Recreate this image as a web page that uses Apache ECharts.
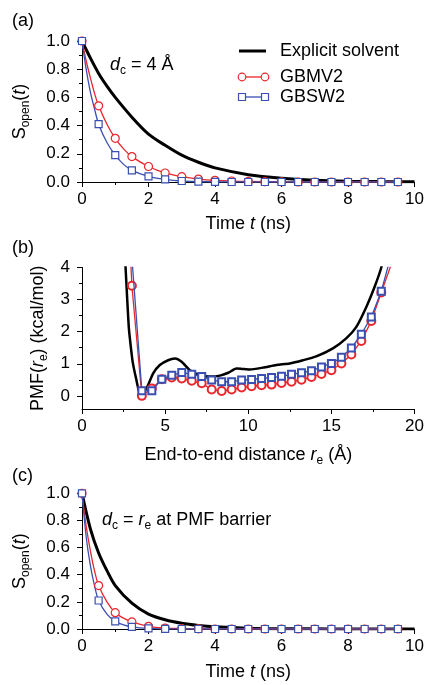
<!DOCTYPE html>
<html><head><meta charset="utf-8">
<script src="https://cdn.jsdelivr.net/npm/echarts@6.0.0/dist/echarts.min.js"></script>
<style>html,body{margin:0;padding:0;background:#fff}#c{width:427px;height:685px}</style>
</head><body><div id="c"></div>
<script>
// ---------- data ----------
const markerTime = [0,0.5,1,1.5,2,2.5,3,3.5,4,4.5,5,5.5,6,6.5,7,7.5,8,8.5,9,9.5];
const gbmv2A = [1,0.54,0.31,0.18,0.11,0.064,0.038,0.021,0.012,0.007,0.004,0.002,0.001,0,0,0,0,0,0,0];
const gbsw2A = [1,0.41,0.19,0.083,0.04,0.019,0.007,0.003,0.001,0,0,0,0,0,0,0,0,0,0,0];
const gbmv2C = [1,0.32,0.12,0.052,0.02,0.007,0.003,0.001,0,0,0,0,0,0,0,0,0,0,0,0];
const gbsw2C = [1,0.21,0.056,0.016,0.004,0.001,0,0,0,0,0,0,0,0,0,0,0,0,0,0];

const fitTime = [0,0.125,0.25,0.375,0.5,0.75,1,1.25,1.5,2,2.5,3,3.5,4,5,6,7,8,9.5];
const gbmv2FitA = [1,0.86,0.74,0.63,0.54,0.41,0.31,0.235,0.18,0.11,0.064,0.038,0.021,0.012,0.004,0.001,0,0,0];
const gbsw2FitA = [1,0.8,0.64,0.52,0.41,0.28,0.19,0.125,0.083,0.04,0.019,0.007,0.003,0.001,0,0,0,0,0];
const gbmv2FitC = [1,0.76,0.58,0.43,0.32,0.2,0.12,0.08,0.052,0.02,0.007,0.003,0.001,0.001,0,0,0,0,0];
const gbsw2FitC = [1,0.68,0.47,0.32,0.21,0.11,0.056,0.03,0.016,0.004,0.001,0,0,0,0,0,0,0,0];

const explicitTime = [0,0.25,0.5,0.75,1,1.5,2,2.5,3,3.5,4,5,6,7,8,9,10];
const explicitA = [1,0.88,0.77,0.68,0.6,0.46,0.34,0.26,0.19,0.14,0.1,0.052,0.027,0.013,0.006,0.003,0.001];
const explicitC = [1,0.74,0.56,0.43,0.32,0.19,0.11,0.068,0.042,0.026,0.016,0.006,0.002,0.001,0,0,0];

const pmfExplicitR = [2.55,2.62,2.72,2.82,2.92,3.05,3.25,3.52,3.88,4.28,4.68,5.18,5.59,5.99,6.49,7.09,7.69,8.29,8.8,9.29,9.6,10.09,10.89,11.69,12.49,13.29,14.09,15.09,15.89,16.5,17.1,17.6,18.0,18.1];
const pmfExplicit = [4.6,4.0,3.0,2.1,1.6,1.05,0.55,0.02,0.23,0.70,0.96,1.11,1.16,1.06,0.80,0.64,0.6,0.63,0.72,0.85,0.84,0.82,0.88,0.96,1.01,1.11,1.23,1.48,1.79,2.15,2.77,3.4,4.0,4.3];
const pmfR = [2.4,3.0,3.6,4.2,4.8,5.4,6.0,6.6,7.2,7.8,8.4,9.0,9.6,10.2,10.8,11.4,12.0,12.6,13.2,13.8,14.4,15.0,15.6,16.2,16.8,17.4,18.0,18.6];
const pmfGbmv2 = [10,3.43,0.0,0.23,0.52,0.57,0.54,0.47,0.39,0.2,0.15,0.2,0.26,0.3,0.33,0.35,0.4,0.44,0.5,0.59,0.68,0.8,1.01,1.29,1.71,2.33,3.22,4.1];
const pmfGbsw2 = [10,4.3,0.16,0.16,0.52,0.64,0.73,0.67,0.6,0.49,0.44,0.44,0.49,0.51,0.54,0.57,0.61,0.67,0.72,0.78,0.9,1.01,1.2,1.49,1.92,2.46,3.26,4.4];

const pmfMajorTicks = [0,1,2,3,4];
const pmfMinorTicks = [0.5,1.5,2.5,3.5];
const legendNames = ['Explicit solvent','GBMV2','GBSW2'];

// ---------- styling ----------
const FONT = '"Liberation Sans", Arial, Helvetica, sans-serif';
const RED = '#e8262b', BLUE = '#3a4fb0', BLACK = '#000';
const rich = {
  n: {fontSize:18, lineHeight:24, verticalAlign:'middle', fontFamily:FONT, color:'#000'},
  it:{fontSize:18, lineHeight:24, verticalAlign:'middle', fontStyle:'italic', fontFamily:FONT, color:'#000'},
  s: {fontSize:12, lineHeight:12, verticalAlign:'bottom', fontFamily:FONT, color:'#000'}
};
const zip = (xs, ys) => xs.map((x, i) => [x, ys[i]]);

function xAx(grid, max, interval, name, gap) {
  return {
    type:'value', gridIndex:grid, min:0, max:max, interval:interval,
    name:name, nameLocation:'middle', nameGap:gap,
    nameTextStyle:{fontSize:18, fontFamily:FONT, color:'#000', lineHeight:24, rich:rich},
    axisLine:{onZero:false, lineStyle:{color:'#000', width:1}},
    axisTick:{show:true, inside:false, length:5, lineStyle:{color:'#000'}},
    minorTick:{show:true, splitNumber:2, length:3, lineStyle:{color:'#000'}},
    axisLabel:{fontSize:17, fontFamily:FONT, color:'#000', margin:9},
    splitLine:{show:false}
  };
}
function yAx(grid, name, gap) {
  return {
    type:'value', gridIndex:grid, min:0, max:1, interval:0.2,
    name:name, nameLocation:'middle', nameRotate:90, nameGap:gap,
    nameTextStyle:{fontSize:18, fontFamily:FONT, color:'#000', lineHeight:24, rich:rich},
    axisLine:{show:true, onZero:false, lineStyle:{color:'#000', width:1}},
    axisTick:{show:true, inside:false, length:5, lineStyle:{color:'#000'}},
    minorTick:{show:true, splitNumber:2, length:3, lineStyle:{color:'#000'}},
    axisLabel:{fontSize:17, fontFamily:FONT, color:'#000', margin:12, formatter:v => v.toFixed(1)},
    splitLine:{show:false}
  };
}
const SopenName = '{n|S}{s|open}{n|(}{it|t}{n|)}';

const yB = {
  type:'value', gridIndex:1, min:-0.41, max:4,
  name:'{n|PMF(}{it|r}{s|e}{n|) (kcal/mol)}', nameLocation:'middle', nameRotate:90, nameGap:30,
  nameTextStyle:{fontSize:18, fontFamily:FONT, color:'#000', lineHeight:24, rich:rich},
  axisLine:{show:true, onZero:false, lineStyle:{color:'#000', width:1}},
  axisTick:{show:true, inside:false, length:5, customValues:pmfMajorTicks, lineStyle:{color:'#000'}},
  axisLabel:{fontSize:17, fontFamily:FONT, color:'#000', margin:12, customValues:pmfMajorTicks},
  splitLine:{show:false}
};
const yBMinor = {
  type:'value', gridIndex:1, min:-0.41, max:4, position:'left',
  axisLine:{show:false, onZero:false},
  axisTick:{show:true, inside:false, length:3, customValues:pmfMinorTicks, lineStyle:{color:'#000'}},
  axisLabel:{show:false, customValues:pmfMinorTicks},
  splitLine:{show:false}
};

function fitLine(xi, yi, xs, ys, color) {
  return {type:'line', xAxisIndex:xi, yAxisIndex:yi, data:zip(xs, ys), smooth:0.3,
          symbol:'none', lineStyle:{color:color, width:1.3}, z:3, silent:true, clip:true};
}
function markers(xi, yi, xs, ys, color, sym, size, z) {
  return {type:'scatter', xAxisIndex:xi, yAxisIndex:yi, data:zip(xs, ys), symbol:sym, symbolSize:size,
          itemStyle:{color:'#fff', borderColor:color, borderWidth:1.2, opacity:1}, z:z};
}
function blackLine(xi, yi, xs, ys, w, sm) {
  return {type:'line', name:legendNames[0], xAxisIndex:xi, yAxisIndex:yi, data:zip(xs, ys), smooth:sm,
          symbol:'none', lineStyle:{color:BLACK, width:w}, z:2, clip:true};
}

const series = [
  blackLine(0,0, explicitTime, explicitA, 3, 0.3),
  fitLine(0,0, fitTime, gbmv2FitA, RED),
  fitLine(0,0, fitTime, gbsw2FitA, BLUE),
  markers(0,0, markerTime, gbmv2A, RED, 'circle', 8, 4),
  markers(0,0, markerTime, gbsw2A, BLUE, 'rect', 7, 5),

  blackLine(1,1, pmfExplicitR, pmfExplicit, 2.5, 0.2),
  {type:'line', name:legendNames[1], xAxisIndex:1, yAxisIndex:1, data:zip(pmfR, pmfGbmv2), clip:true,
   symbol:'emptyCircle', symbolSize:8, lineStyle:{color:RED, width:1.3}, itemStyle:{color:RED, borderWidth:1.2}, z:3},
  {type:'line', name:legendNames[2], xAxisIndex:1, yAxisIndex:1, data:zip(pmfR, pmfGbsw2), clip:true,
   symbol:'emptyRect', symbolSize:7, lineStyle:{color:BLUE, width:1.3}, itemStyle:{color:BLUE, borderWidth:1.2}, z:4},

  blackLine(2,2, explicitTime, explicitC, 3, 0.3),
  fitLine(2,2, fitTime, gbmv2FitC, RED),
  fitLine(2,2, fitTime, gbsw2FitC, BLUE),
  markers(2,2, markerTime, gbmv2C, RED, 'circle', 8, 4),
  markers(2,2, markerTime, gbsw2C, BLUE, 'rect', 7, 5)
];

function txt(x, y, text, extra) {
  return Object.assign({type:'text', x:x, y:y, z:10,
    style:{text:text, fontSize:18, fontFamily:FONT, fill:'#000', verticalAlign:'middle', align:'left', rich:rich}}, extra || {});
}

const graphic = [
  txt(12, 21, '(a)'), txt(12, 248, '(b)'), txt(12, 476, '(c)'),
  txt(110, 65, '{it|d}{s|c}{n| = 4 Å}'),
  txt(102, 520, '{it|d}{s|c}{n| = }{it|r}{s|e}{n| at PMF barrier}'),
  // legend
  {type:'line', shape:{x1:239, y1:51, x2:266, y2:51}, style:{stroke:BLACK, lineWidth:3}, z:10},
  txt(280, 51, legendNames[0]),
  {type:'line', shape:{x1:242, y1:77, x2:265, y2:77}, style:{stroke:RED, lineWidth:1.3}, z:10},
  {type:'circle', shape:{cx:242, cy:77, r:3.8}, style:{fill:'#fff', stroke:RED, lineWidth:1.2}, z:11},
  {type:'circle', shape:{cx:265, cy:77, r:3.8}, style:{fill:'#fff', stroke:RED, lineWidth:1.2}, z:11},
  txt(280, 77, legendNames[1]),
  {type:'line', shape:{x1:242, y1:97, x2:265, y2:97}, style:{stroke:BLUE, lineWidth:1.3}, z:10},
  {type:'rect', shape:{x:238.5, y:93.5, width:7, height:7}, style:{fill:'#fff', stroke:BLUE, lineWidth:1.2}, z:11},
  {type:'rect', shape:{x:261.5, y:93.5, width:7, height:7}, style:{fill:'#fff', stroke:BLUE, lineWidth:1.2}, z:11},
  txt(280, 97, legendNames[2])
];

const chart = echarts.init(document.getElementById('c'), null, {renderer:'canvas'});
chart.setOption({
  animation:false,
  backgroundColor:'#fff',
  textStyle:{fontFamily:FONT},
  grid:[
    {left:82, top:41, width:333, height:141},
    {left:82, top:267.5, width:333, height:141.5},
    {left:82, top:493.3, width:333, height:141.7}
  ],
  xAxis:[
    xAx(0, 10, 2, '{n|Time }{it|t}{n| (ns)}', 30),
    xAx(1, 20, 5, '{n|End-to-end distance }{it|r}{s|e}{n| (Å)}', 34),
    xAx(2, 10, 2, '{n|Time }{it|t}{n| (ns)}', 31)
  ],
  yAxis:[ yAx(0, SopenName, 50), yB, yAx(2, SopenName, 50), yBMinor ],
  series:series,
  graphic:graphic
});
</script></body></html>
